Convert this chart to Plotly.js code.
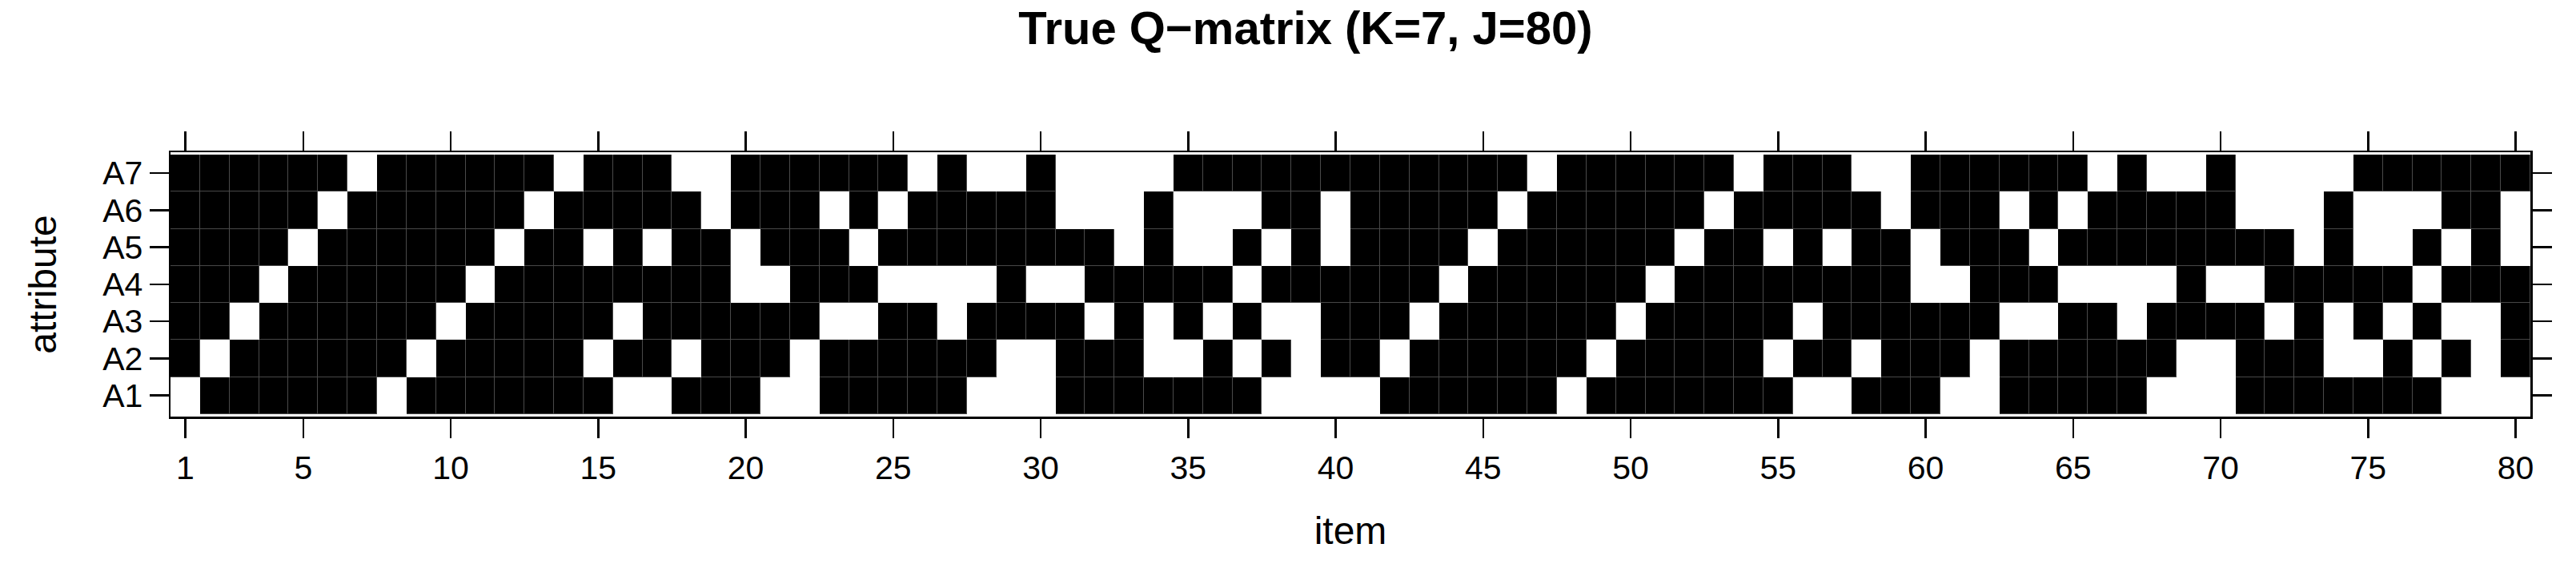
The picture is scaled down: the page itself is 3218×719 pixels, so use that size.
<!DOCTYPE html>
<html>
<head>
<meta charset="utf-8">
<script src="https://cdn.plot.ly/plotly-3.0.1.min.js"></script>
<style>
  html, body { margin: 0; padding: 0; background: #ffffff; }
  #chart { width: 3218px; height: 719px; }
</style>
</head>
<body>
<div id="chart"></div>
<script>
// items 1..80 and the attribute labels
const items = [];
for (let i = 1; i <= 80; i++) items.push(i);
const attrLabels = ["A1", "A2", "A3", "A4", "A5", "A6", "A7"];
const itemTicks = [1, 5, 10, 15, 20, 25, 30, 35, 40, 45, 50, 55, 60, 65, 70, 75, 80];

// Q-matrix rows (1 = attribute required by item)
const A1 = [0,1,1,1,1,1,1,0,1,1,1,1,1,1,1,0,0,1,1,1, 0,0,1,1,1,1,1,0,0,0,1,1,1,1,1,1,1,0,0,0,
            0,1,1,1,1,1,1,0,1,1,1,1,1,1,1,0,0,1,1,1, 0,0,1,1,1,1,1,0,0,0,1,1,1,1,1,1,1,0,0,0];
const A2 = [1,0,1,1,1,1,1,1,0,1,1,1,1,1,0,1,1,0,1,1, 1,0,1,1,1,1,1,1,0,0,1,1,1,0,0,1,0,1,0,1,
            1,0,1,1,1,1,1,1,0,1,1,1,1,1,0,1,1,0,1,1, 1,0,1,1,1,1,1,1,0,0,1,1,1,0,0,1,0,1,0,1];
const A3 = [1,1,0,1,1,1,1,1,1,0,1,1,1,1,1,0,1,1,1,1, 1,1,0,0,1,1,0,1,1,1,1,0,1,0,1,0,1,0,0,1,
            1,1,0,1,1,1,1,1,1,0,1,1,1,1,1,0,1,1,1,1, 1,1,0,0,1,1,0,1,1,1,1,0,1,0,1,0,1,0,0,1];
const A4 = [1,1,1,0,1,1,1,1,1,1,0,1,1,1,1,1,1,1,1,0, 0,1,1,1,0,0,0,0,1,0,0,1,1,1,1,1,0,1,1,1,
            1,1,1,0,1,1,1,1,1,1,0,1,1,1,1,1,1,1,1,0, 0,1,1,1,0,0,0,0,1,0,0,1,1,1,1,1,0,1,1,1];
const A5 = [1,1,1,1,0,1,1,1,1,1,1,0,1,1,0,1,0,1,1,0, 1,1,1,0,1,1,1,1,1,1,1,1,0,1,0,0,1,0,1,0,
            1,1,1,1,0,1,1,1,1,1,1,0,1,1,0,1,0,1,1,0, 1,1,1,0,1,1,1,1,1,1,1,1,0,1,0,0,1,0,1,0];
const A6 = [1,1,1,1,1,0,1,1,1,1,1,1,0,1,1,1,1,1,0,1, 1,1,0,1,0,1,1,1,1,1,0,0,0,1,0,0,0,1,1,0,
            1,1,1,1,1,0,1,1,1,1,1,1,0,1,1,1,1,1,0,1, 1,1,0,1,0,1,1,1,1,1,0,0,0,1,0,0,0,1,1,0];
const A7 = [1,1,1,1,1,1,0,1,1,1,1,1,1,0,1,1,1,0,0,1, 1,1,1,1,1,0,1,0,0,1,0,0,0,0,1,1,1,1,1,1,
            1,1,1,1,1,1,0,1,1,1,1,1,1,0,1,1,1,0,0,1, 1,1,1,1,1,0,1,0,0,1,0,0,0,0,1,1,1,1,1,1];

const Q = [A1, A2, A3, A4, A5, A6, A7];
const rows = [1, 2, 3, 4, 5, 6, 7];

const font_family = "Liberation Sans, Arial, Helvetica, sans-serif";

// under layer: grey where black cells are, so the gaps read as thin seams
const seams = {
  type: "heatmap",
  x: items,
  y: rows,
  z: Q,
  zmin: 0, zmax: 1,
  colorscale: [[0, "#ffffff"], [1, "#4a4a4a"]],
  showscale: false,
  hoverinfo: "skip"
};

const cells = {
  type: "heatmap",
  x: items,
  y: rows,
  z: Q,
  zmin: 0, zmax: 1,
  xgap: 1, ygap: 1,
  colorscale: [[0, "rgba(255,255,255,0)"], [1, "#000000"]],
  showscale: false,
  hoverinfo: "skip"
};

const axis_common = {
  showline: true,
  linecolor: "#000000",
  linewidth: 2.5,
  mirror: "ticks",
  ticks: "outside",
  ticklen: 24,
  tickwidth: 2.5,
  tickcolor: "#000000",
  showgrid: false,
  zeroline: false,
  automargin: false,
  tickfont: { family: font_family, size: 41, color: "#000000" }
};

const layout = {
  width: 3218,
  height: 719,
  margin: { l: 213, r: 57, t: 190, b: 199 },
  paper_bgcolor: "#ffffff",
  plot_bgcolor: "#ffffff",
  title: {
    text: "True Q\u2212matrix (K=7, J=80)",
    font: { family: font_family, size: 58, color: "#000000", weight: "bold" },
    xref: "container", x: 0.5068, xanchor: "center",
    yref: "container", y: 1 - 14 / 719, yanchor: "top"
  },
  xaxis: Object.assign({}, axis_common, {
    range: [0.5, 80.5],
    tickmode: "array",
    tickvals: itemTicks,
    ticktext: itemTicks.map(String),
    ticklabelstandoff: 2,
    title: { text: "item", font: { family: font_family, size: 48, color: "#000000" }, standoff: 40 }
  }),
  yaxis: Object.assign({}, axis_common, {
    range: [0.43, 7.565],
    tickmode: "array",
    tickvals: rows,
    ticktext: attrLabels,
    title: { text: "attribute", font: { family: font_family, size: 48, color: "#000000" }, standoff: 43 }
  }),
  showlegend: false
};

Plotly.newPlot("chart", [seams, cells], layout, { staticPlot: true, displayModeBar: false });
</script>
</body>
</html>
